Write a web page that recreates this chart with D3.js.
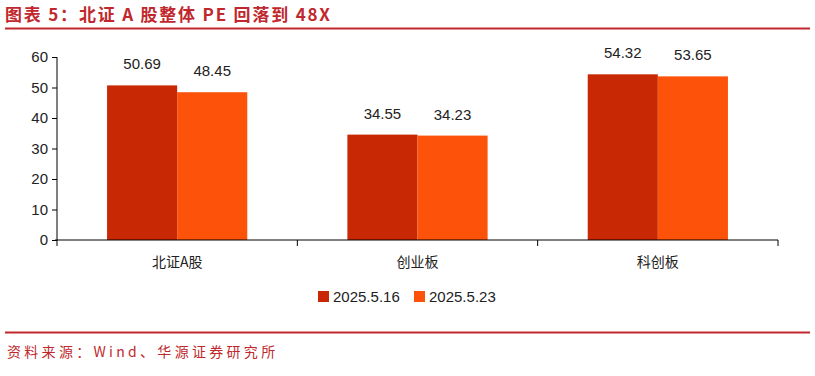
<!DOCTYPE html>
<html>
<head>
<meta charset="utf-8">
<script src="https://cdn.jsdelivr.net/npm/d3@7"></script>
<style>
  body { margin: 0; background: #fff; }
  svg { display: block; }
</style>
</head>
<body>
<div id="chart"></div>
<script>
// data
const categories = ["北证A股", "创业板", "科创板"]
const seriesNames = ["2025.5.16", "2025.5.23"]
const peOld = [50.69, 34.55, 54.32]
const peNew = [48.45, 34.23, 53.65]
const yTicks = [0, 10, 20, 30, 40, 50, 60]

const colors = ["#C82803", "#FC520A"]
const width = 815, height = 376
const margin = { left: 57, right: 37, top: 57, bottom: 136 }

const svg = d3.select("#chart").append("svg")
    .attr("width", width)
    .attr("height", height)

// title + rule
svg.append("text")
    .attr("x", 5).attr("y", 21)
    .attr("fill", "#C0282D")
    .style("font-family", "'Noto Sans CJK SC', sans-serif")
    .style("font-size", "17px")
    .style("font-weight", "bold")
    .style("letter-spacing", "1.8px")
    .text("图表 5：北证 A 股整体 PE 回落到 48X")

svg.append("line")
    .attr("x1", 5).attr("x2", 810).attr("y1", 28.5).attr("y2", 28.5)
    .attr("stroke", "#C0282D").attr("stroke-width", 2)

const x = d3.scaleBand()
    .domain(categories)
    .range([margin.left, 778])
    .paddingInner(0)
    .paddingOuter(0)

const sub = d3.scaleBand()
    .domain(seriesNames)
    .range([0, x.bandwidth()])
    .paddingOuter(0.714)
    .paddingInner(0)

const y = d3.scaleLinear()
    .domain([0, 60])
    .range([240, 57])

const font = "'Liberation Sans', Arial, sans-serif"

// y axis
const yAxis = svg.append("g")
    .attr("transform", "translate(" + margin.left + ",0)")
    .call(d3.axisLeft(y).tickValues(yTicks).tickSize(5).tickPadding(4).tickSizeOuter(0))
yAxis.select(".domain").attr("d", "M0," + y(60) + "V246").attr("stroke", "#000")
yAxis.selectAll("text").style("font-family", font).style("font-size", "15px").attr("fill", "#222")

// bars
const rows = categories.map((c, i) => ({ cat: c, vals: [peOld[i], peNew[i]] }))
const grp = svg.selectAll("g.grp")
    .data(rows)
    .enter().append("g")
    .attr("class", "grp")
    .attr("transform", d => "translate(" + x(d.cat) + ",0)")

grp.selectAll("rect")
    .data(d => d.vals.map((v, j) => ({ v: v, s: seriesNames[j], j: j })))
    .enter().append("rect")
    .attr("x", d => sub(d.s))
    .attr("width", sub.bandwidth())
    .attr("y", d => y(d.v))
    .attr("height", d => y(0) - y(d.v))
    .attr("fill", d => colors[d.j])

grp.selectAll("text.val")
    .data(d => d.vals.map((v, j) => ({ v: v, s: seriesNames[j] })))
    .enter().append("text")
    .attr("class", "val")
    .attr("x", d => sub(d.s) + sub.bandwidth() / 2)
    .attr("y", d => y(d.v) - 16)
    .attr("text-anchor", "middle")
    .style("font-family", font)
    .style("font-size", "15px")
    .attr("fill", "#222")
    .text(d => d.v.toFixed(2))

// x axis
const xAxis = svg.append("g")
    .attr("transform", "translate(0,240)")
xAxis.append("line")
    .attr("x1", 55).attr("x2", 778).attr("stroke", "#000")
categories.forEach(c => {
    xAxis.append("line")
        .attr("x1", x(c) + x.bandwidth()).attr("x2", x(c) + x.bandwidth())
        .attr("y1", 0).attr("y2", 6).attr("stroke", "#000")
    xAxis.append("text")
        .attr("x", x(c) + x.bandwidth() / 2)
        .attr("y", 27)
        .attr("text-anchor", "middle")
        .style("font-family", "'Noto Sans CJK SC', sans-serif")
        .style("font-size", "14px")
        .attr("fill", "#222")
        .text(c)
})

// legend
const legendX = [318, 414]
seriesNames.forEach((s, j) => {
    svg.append("rect")
        .attr("x", legendX[j]).attr("y", 291)
        .attr("width", 11).attr("height", 11)
        .attr("fill", colors[j])
    svg.append("text")
        .attr("x", legendX[j] + 15).attr("y", 302)
        .style("font-family", font)
        .style("font-size", "15px")
        .attr("fill", "#222")
        .text(s)
})

// footer
svg.append("line")
    .attr("x1", 5).attr("x2", 810).attr("y1", 332.5).attr("y2", 332.5)
    .attr("stroke", "#C0282D").attr("stroke-width", 2)

svg.append("text")
    .attr("x", 7).attr("y", 357)
    .attr("fill", "#C0282D")
    .style("font-family", "'Noto Sans CJK SC', monospace")
    .style("font-size", "14px")
    .style("letter-spacing", "3.3px")
    .text("资料来源：Wind、华源证券研究所")
</script>
</body>
</html>
